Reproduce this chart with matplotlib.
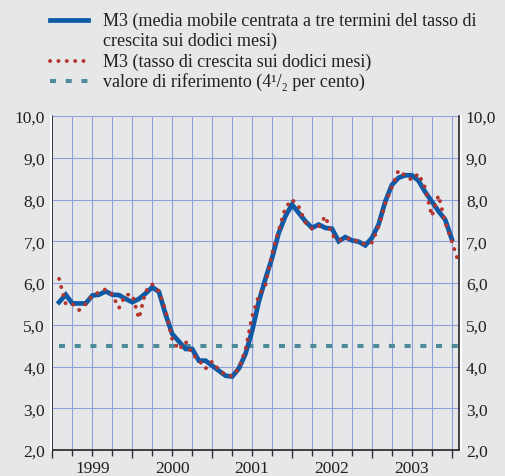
import numpy as np
import matplotlib
matplotlib.use("Agg")
import matplotlib.pyplot as plt
from matplotlib.lines import Line2D

# M3, tasso di crescita sui dodici mesi (gen 1999 - gen 2004)
red = [6.1, 5.5, 5.5, 5.35, 5.5, 5.7, 5.78, 5.85, 5.72, 5.4, 5.72, 5.72,
       5.15, 5.8, 5.97, 5.8, 5.35, 4.65, 4.4, 4.6, 4.3, 4.15, 3.95, 4.12,
       3.92, 3.8, 3.77, 3.95, 4.4, 5.2, 5.7, 5.95, 6.7, 7.27, 7.8, 8.0,
       7.83, 7.45, 7.3, 7.35, 7.6, 7.15, 7.02, 7.05, 7.08, 6.97, 6.93, 6.97,
       7.35, 7.9, 8.3, 8.7, 8.57, 8.47, 8.62, 8.28, 7.6, 8.1, 7.45, 7.0,
       6.5]
# media mobile centrata a tre termini (gen 1999 - dic 2003)
blue = [5.54, 5.72, 5.51, 5.51, 5.51, 5.7, 5.72, 5.8, 5.72, 5.71, 5.62, 5.54,
        5.62, 5.75, 5.9, 5.79, 5.25, 4.78, 4.6, 4.42, 4.42, 4.14, 4.14, 4.02,
        3.9, 3.78, 3.76, 3.95, 4.3, 4.85, 5.55, 6.1, 6.6, 7.2, 7.6, 7.88,
        7.68, 7.48, 7.32, 7.4, 7.32, 7.3, 7.0, 7.1, 7.02, 6.99, 6.9, 7.08,
        7.4, 7.95, 8.35, 8.52, 8.58, 8.58, 8.45, 8.18, 7.95, 7.72, 7.52, 7.05]
ref_value = 4.5
years = [1999, 2000, 2001, 2002, 2003]
yticks = [2, 3, 4, 5, 6, 7, 8, 9, 10]

bg = "#e6e7e9"
c_blue = "#0d5aa7"
c_red = "#b5342c"
c_teal = "#4d8b9b"
c_grid = "#8e9fda"
c_text = "#231f20"
serif = ["Liberation Serif", "DejaVu Serif"]
fs_tick = 12.5
fs_leg = 13

# valori a fine mese
x_red = 1999 + (np.arange(len(red)) + 1) / 12
x_blue = 1999 + (np.arange(len(blue)) + 1) / 12

fig = plt.figure(figsize=(5.05, 4.77), dpi=100, facecolor=bg)
W, H = 505, 477
L, R, T, B = 52, 459, 117, 451
ax = fig.add_axes([L / W, 1 - B / H, (R - L) / W, (B - T) / H])
ax.set_facecolor(bg)

red_style = dict(color=c_red, lw=2.8, linestyle=(0, (0.05, 2.1)), dash_capstyle="round")
ref_style = dict(color=c_teal, lw=2.9, linestyle=(0, (1.5, 2.4)), dash_capstyle="butt")

ax.plot([x_red[0], x_red[-1]], [ref_value, ref_value], zorder=3, **ref_style)
ax.plot(x_blue, blue, color=c_blue, lw=3.4, solid_joinstyle="miter", zorder=4)
ax.plot(x_red, red, zorder=5, **red_style)

ax.set_xlim(1998.995, 2004.09)
ax.set_ylim(2, 10)
ax.set_yticks(yticks)
ax.set_yticklabels([f"{v},0" for v in yticks])
ax.set_xticks(np.arange(1999, 2005))
ax.set_xticks(np.arange(1999, 2004.01, 0.25), minor=True)
ax.set_xticklabels([])
ax.grid(axis="x", which="both", color=c_grid, lw=0.8, zorder=1)
ax.grid(axis="y", color=c_grid, lw=0.8, zorder=1)
ax.set_axisbelow(True)

ax.tick_params(axis="y", length=0, labelsize=fs_tick, labelcolor=c_text,
               left=False, right=False, labelleft=True, labelright=True, pad=5)
ax.tick_params(axis="x", which="major", length=6, direction="out", color="#333333", width=1)
ax.tick_params(axis="x", which="minor", length=4, direction="out", color="#333333", width=1)
for t in ax.yaxis.get_major_ticks():
    for lab in (t.label1, t.label2):
        lab.set_family(serif)
        lab.set_fontsize(fs_tick)
        lab.set_color(c_text)

ax.spines["top"].set_visible(False)
for s in ["left", "right", "bottom"]:
    ax.spines[s].set_color("#222222")
    ax.spines[s].set_linewidth(1.2)

for yr in years:
    ax.text(yr + 0.5, -0.055, str(yr), transform=ax.get_xaxis_transform(),
            ha="center", va="center", fontsize=fs_tick, family=serif, color=c_text)

# cornice bianca
fig.add_artist(Line2D([(L - 1.5) / W] * 2, [1 - B / H, 1 - T / H], color="white", lw=1.5))
fig.add_artist(Line2D([(R + 1.5) / W] * 2, [1 - B / H, 1 - T / H], color="white", lw=1.5))

# legenda
hx0, hx1, tx = 50 / W, 88 / W, 103 / W
def fy(p):
    return 1 - p / H
fig.add_artist(Line2D([hx0, hx1], [fy(21)] * 2, color=c_blue, lw=3.4))
fig.add_artist(Line2D([hx0, hx1], [fy(62)] * 2, **red_style))
fig.add_artist(Line2D([hx0, hx1], [fy(82)] * 2, **ref_style))
legend_lines = [
    (21, "M3 (media mobile centrata a tre termini del tasso di"),
    (41, "crescita sui dodici mesi)"),
    (62, "M3 (tasso di crescita sui dodici mesi)"),
    (82, "valore di riferimento (4\u00b9/\u2082 per cento)"),
]
for py, txt in legend_lines:
    fig.text(tx, fy(py), txt, ha="left", va="center", fontsize=fs_leg,
             family=serif, color=c_text)

fig.savefig("out.png", dpi=100, facecolor=bg)
